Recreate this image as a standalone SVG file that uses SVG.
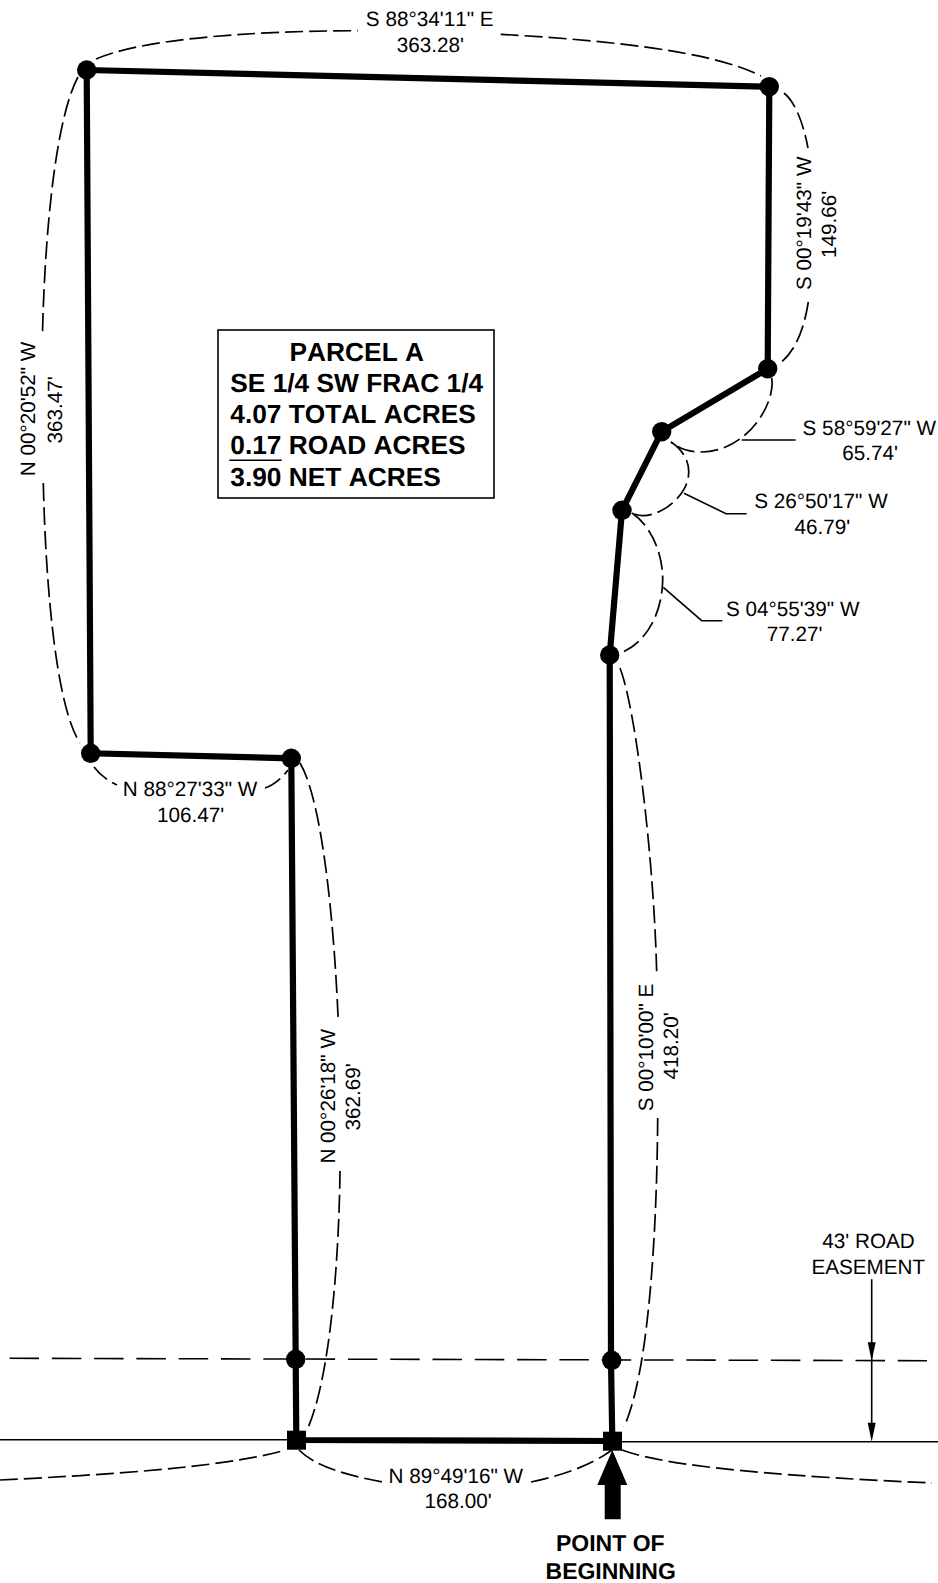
<svg xmlns="http://www.w3.org/2000/svg" width="938" height="1583" viewBox="0 0 938 1583">
<style>
text{font-family:"Liberation Sans",Arial,sans-serif;fill:#000;font-kerning:none;text-rendering:geometricPrecision}
.t{font-size:20.7px;text-anchor:middle}
.b{font-size:26.3px;font-weight:bold}
.c{text-anchor:middle}
.p{font-size:23px;font-weight:bold;text-anchor:middle}
.h{fill:none;stroke:#000;stroke-width:6.2}
.d{fill:none;stroke:#000;stroke-width:1.7;stroke-dasharray:18 6}
.l{fill:none;stroke:#000;stroke-width:1.6}
.r{fill:none;stroke:#000;stroke-width:1.6;stroke-dasharray:29.5 12.8}
.n{fill:#000}
</style>
<rect width="938" height="1583" fill="#fff"/>
<g id="connectors">
<path class="l" d="M0,1439.7L296,1439.7M612,1441.7L938,1441.7"/>
<path class="r" d="M9.5,1358.3L927,1360.7"/>
<path class="d" d="M96,59C140,40 240,31 358,30.7"/>
<path class="d" d="M500.7,34.3C600,40 710,50 761,76"/>
<path class="d" d="M78,77C60,110 46,200 42.5,332"/>
<path class="d" d="M43.3,483C46,600 58,710 80,743"/>
<path class="d" d="M784,93C795,102 803,122 808,148"/>
<path class="d" d="M808.3,302C804,330 795,352 779,364"/>
<path class="d" d="M771.7,378C776,405 745,453 700,452C688,452 678,448 671,442"/>
<path class="d" d="M671,442C683,450 690,462 688.5,475C687,497 660,516 643,515.7C640,515.7 636,515 632,513"/>
<path class="d" d="M632,513C650,525 663,552 662.7,580C662,615 645,645 618,654"/>
<path class="d" d="M620,668C636,710 654,860 656.7,973"/>
<path class="d" d="M657.7,1118C657,1220 650,1370 624,1427"/>
<path class="d" d="M300,763C322,800 334,920 338.3,1022"/>
<path class="d" d="M340,1171C339,1260 330,1380 307,1430"/>
<path class="d" d="M94,767C100,775 108,781 117,785"/>
<path class="d" d="M265,788C274,785 282,778 288,770"/>
<path class="d" d="M299,1450C315,1466 345,1475 384,1482.3"/>
<path class="d" d="M531,1482C560,1476 590,1466 612,1450"/>
<path class="d" d="M0,1480C100,1475 220,1468 282,1451"/>
<path class="d" d="M622,1450C670,1468 800,1477 932,1483"/>
<path class="l" d="M741.7,440L795.7,440"/>
<path class="l" d="M684,493.3L726,513.7L746.7,513.7"/>
<path class="l" d="M663.3,587.3L701.7,620.7L722.3,620.7"/>
<path class="h" d="M86.7,70L769.3,86.7L767.7,368.7L661.7,431.7L622,510.3L609.7,655L611,1360L612.3,1441L296.3,1440L295.7,1359.3L291.3,758.3L90.7,753.3Z"/>
<path class="l" d="M871.7,1279.3L871.7,1343M871.7,1343L871.7,1425"/>
<path id="ease-arrow-1" class="n" d="M867.7,1342.3L875.7,1342.3L871.7,1360.7Z"/>
<path id="ease-arrow-2" class="n" d="M867.7,1422.7L875.7,1422.7L871.7,1441.7Z"/>
<path id="pob-arrow" class="n" d="M612.3,1450L627.3,1485L620.7,1485L620.7,1519.3L604.7,1519.3L604.7,1485L597.3,1485Z"/>
</g>
<g id="node-a"><circle class="n" cx="86.7" cy="70" r="9.7"/></g>
<g id="node-b"><circle class="n" cx="769.3" cy="86.7" r="9.7"/></g>
<g id="node-c"><circle class="n" cx="767.7" cy="368.7" r="9.7"/></g>
<g id="node-d"><circle class="n" cx="661.7" cy="431.7" r="9.7"/></g>
<g id="node-e"><circle class="n" cx="622" cy="510.3" r="9.7"/></g>
<g id="node-f"><circle class="n" cx="609.7" cy="655" r="9.7"/></g>
<g id="node-g"><circle class="n" cx="611.7" cy="1360.3" r="9.7"/></g>
<g id="node-h"><rect class="n" x="603" y="1431.7" width="19" height="19"/></g>
<g id="node-i"><rect class="n" x="287" y="1430.7" width="19" height="19"/></g>
<g id="node-j"><circle class="n" cx="295.7" cy="1359.3" r="9.7"/></g>
<g id="node-k"><circle class="n" cx="291.3" cy="758.3" r="9.7"/></g>
<g id="node-l"><circle class="n" cx="90.7" cy="753.3" r="9.7"/></g>
<g id="parcel-box">
<rect x="218" y="330" width="276" height="168" fill="#fff" stroke="#000" stroke-width="1.6"/>
<text class="b c" x="356.8" y="360.7">PARCEL A</text>
<text class="b" x="230.3" y="391.5">SE 1/4 SW FRAC 1/4</text>
<text class="b" x="230.3" y="422.7">4.07 TOTAL ACRES</text>
<text class="b" x="230.3" y="454">0.17 ROAD ACRES</text>
<text class="b" x="230.3" y="485.7">3.90 NET ACRES</text>
<path class="l" d="M229.3,460.3L281.7,460.3"/>
</g>
<g id="labels">
<text class="t" x="429.7" y="26">S 88°34'11" E</text>
<text class="t" x="430.3" y="51.7">363.28'</text>
<text class="t" transform="translate(810.7,223.3) rotate(-90)">S 00°19'43" W</text>
<text class="t" transform="translate(835.7,224.3) rotate(-90)">149.66'</text>
<text class="t" transform="translate(35,409) rotate(-90)">N 00°20'52" W</text>
<text class="t" transform="translate(62,410) rotate(-90)">363.47'</text>
<text class="t" x="869.3" y="435">S 58°59'27" W</text>
<text class="t" x="870" y="460">65.74'</text>
<text class="t" x="821" y="507.7">S 26°50'17" W</text>
<text class="t" x="822.3" y="533.7">46.79'</text>
<text class="t" x="792.7" y="615.7">S 04°55'39" W</text>
<text class="t" x="794.5" y="641">77.27'</text>
<text class="t" x="190" y="796">N 88°27'33" W</text>
<text class="t" x="190.5" y="821.7">106.47'</text>
<text class="t" transform="translate(335,1096.3) rotate(-90)">N 00°26'18" W</text>
<text class="t" transform="translate(360,1097) rotate(-90)">362.69'</text>
<text class="t" transform="translate(652.7,1047.5) rotate(-90)">S 00°10'00" E</text>
<text class="t" transform="translate(678,1046) rotate(-90)">418.20'</text>
<text class="t" x="455.8" y="1483.3">N 89°49'16" W</text>
<text class="t" x="458" y="1508.3">168.00'</text>
<text class="t" x="868.5" y="1248.3">43' ROAD</text>
<text class="t" x="868.3" y="1274">EASEMENT</text>
<text class="p" x="610.3" y="1550.7">POINT OF</text>
<text class="p" x="610.7" y="1579.3">BEGINNING</text>
</g>
</svg>
